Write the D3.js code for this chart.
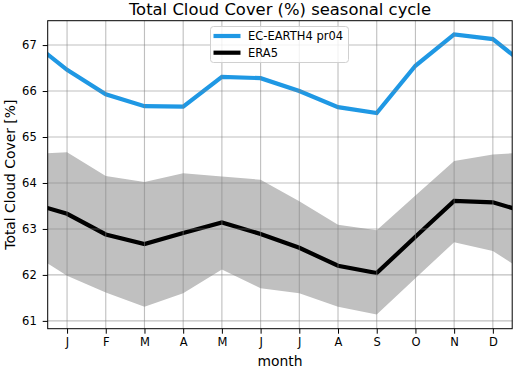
<!DOCTYPE html>
<html><head><meta charset="utf-8">
<script src="https://cdn.jsdelivr.net/npm/d3@7"></script>
<style>body{margin:0;background:#fff}svg{display:block}text{font-family:"DejaVu Sans",sans-serif}</style>
</head><body>
<script>
const months = ["J","F","M","A","M","J","J","A","S","O","N","D"];
const ecEarth = [66.46,65.93,65.67,65.66,66.31,66.28,66.0,65.65,65.52,66.55,67.23,67.13];
const era5 = [63.33,62.88,62.67,62.91,63.14,62.89,62.59,62.20,62.04,62.83,63.61,63.58];
const era5Upper = [64.67,64.15,64.02,64.21,64.14,64.07,63.60,63.09,62.97,63.73,64.48,64.62];
const era5Lower = [61.98,61.62,61.31,61.60,62.12,61.71,61.60,61.31,61.14,61.93,62.71,62.52];
const yTicks = [61,62,63,64,65,66,67];
const title = "Total Cloud Cover (%) seasonal cycle";
const xLabel = "month", yLabel = "Total Cloud Cover [%]";
const seriesNames = ["EC-EARTH4 pr04","ERA5"];

const W=513,H=369;
const L=47.7,R=512.2,T=20.7,B=328.7;
const svg=d3.select("body").append("svg").attr("width",W).attr("height",H);
const x=d3.scaleLinear().domain([0.5,12.5]).range([L,R]);
const y=d3.scaleLinear().domain([60.83,67.53]).range([B,T]);

// cyclic wrap: Dec before Jan, Jan after Dec
const wrap=a=>[a[11],...a,a[0]];
const idx=d3.range(0,14);
const ec=wrap(ecEarth), er=wrap(era5), up=wrap(era5Upper), lo=wrap(era5Lower);

svg.append("clipPath").attr("id","c").append("rect").attr("x",L).attr("y",T).attr("width",R-L).attr("height",B-T);
const g=svg.append("g").attr("clip-path","url(#c)");

g.append("path").datum(idx).attr("fill","#c0c0c0")
 .attr("d",d3.area().x(i=>x(i)).y0(i=>y(lo[i])).y1(i=>y(up[i])));

// grid
const grid=svg.append("g");
d3.range(1,13).forEach(i=>grid.append("line").attr("x1",x(i)).attr("x2",x(i)).attr("y1",T).attr("y2",B)
  .attr("stroke","#808080").attr("stroke-opacity",0.5).attr("stroke-width",1.1));
yTicks.forEach(v=>grid.append("line").attr("x1",L).attr("x2",R).attr("y1",y(v)).attr("y2",y(v))
  .attr("stroke","#808080").attr("stroke-opacity",0.5).attr("stroke-width",1.1));

const line=arr=>d3.line().x(i=>x(i)).y(i=>y(arr[i]));
g.append("path").datum(idx).attr("fill","none").attr("stroke","#1f98e4").attr("stroke-width",4.2).attr("d",line(ec));
g.append("path").datum(idx).attr("fill","none").attr("stroke","#000").attr("stroke-width",4.2).attr("d",line(er));

// axes
const xa=svg.append("g").attr("transform",`translate(0,${B})`)
 .call(d3.axisBottom(x).tickValues(d3.range(1,13)).tickFormat(i=>months[i-1]).tickSize(5).tickPadding(4));
const ya=svg.append("g").attr("transform",`translate(${L},0)`)
 .call(d3.axisLeft(y).tickValues(yTicks).tickFormat(d3.format("d")).tickSize(5).tickPadding(6));
[xa,ya].forEach(a=>{a.select(".domain").remove();a.selectAll("text").attr("font-size",11.5).attr("fill","#000").attr("font-family","DejaVu Sans");a.selectAll("line").attr("stroke","#000").attr("stroke-width",1);});
svg.append("rect").attr("x",L).attr("y",T).attr("width",R-L).attr("height",B-T).attr("fill","none").attr("stroke","#000").attr("stroke-width",1);

svg.append("text").attr("x",(L+R)/2).attr("y",15).attr("text-anchor","middle").attr("font-size",16.4).text(title);
svg.append("text").attr("x",(L+R)/2).attr("y",366).attr("text-anchor","middle").attr("font-size",13.9).text(xLabel);
svg.append("text").attr("transform",`translate(15,${(T+B)/2}) rotate(-90)`).attr("text-anchor","middle").attr("font-size",13.9).text(yLabel);

// legend
const lg=svg.append("g");
lg.append("rect").attr("x",210.5).attr("y",26.5).attr("width",138).attr("height",36).attr("rx",3)
 .attr("fill","#fff").attr("fill-opacity",0.8).attr("stroke","#d0d0d0").attr("stroke-width",1);
[["#1f98e4",36],["#000",52.7]].forEach((s,k)=>{
 lg.append("line").attr("x1",213.5).attr("x2",240.5).attr("y1",s[1]).attr("y2",s[1]).attr("stroke",s[0]).attr("stroke-width",4.2);
 lg.append("text").attr("x",248).attr("y",s[1]+4.2).attr("font-size",11.5).text(seriesNames[k]);
});
</script>
</body></html>
